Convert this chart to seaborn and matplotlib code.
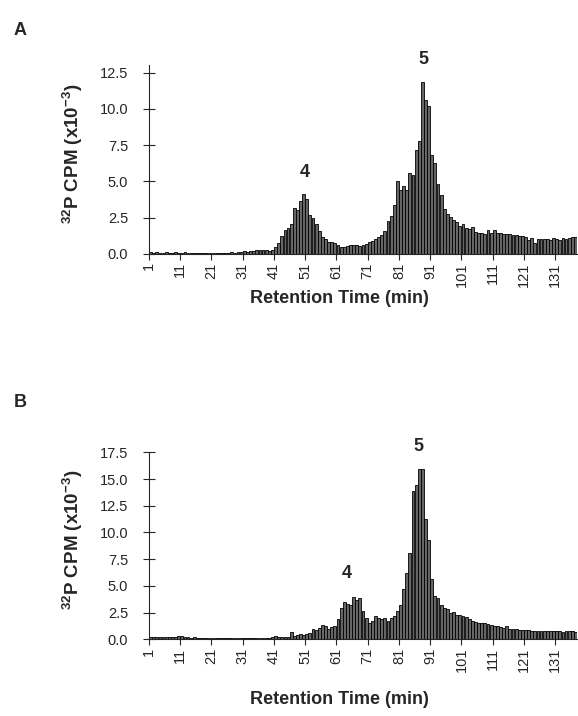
import numpy as np
import pandas as pd
import matplotlib
matplotlib.use('Agg')
import matplotlib.pyplot as plt
import seaborn as sns
from matplotlib.ticker import FormatStrFormatter

# Фракции (мин) и счёт 32P, x10^-3
fractions = list(range(1, 138))
cpm_a = [0.12, 0.10, 0.12, 0.10, 0.10, 0.12, 0.10, 0.10, 0.12, 0.10,
         0.10, 0.12, 0.10, 0.08, 0.10, 0.10, 0.08, 0.10, 0.10, 0.08,
         0.10, 0.10, 0.10, 0.08, 0.10, 0.10, 0.12, 0.10, 0.12, 0.15,
         0.18, 0.15, 0.20, 0.18, 0.25, 0.30, 0.25, 0.28, 0.22, 0.30,
         0.45, 0.78, 1.24, 1.65, 1.80, 2.10, 3.15, 3.00, 3.65, 4.10,
         3.80, 2.70, 2.50, 2.10, 1.55, 1.20, 1.00, 0.85, 0.80, 0.75,
         0.65, 0.50, 0.46, 0.55, 0.60, 0.62, 0.60, 0.55, 0.60, 0.70,
         0.80, 0.90, 1.00, 1.15, 1.30, 1.55, 2.30, 2.65, 3.35, 5.00,
         4.40, 4.70, 4.40, 5.60, 5.45, 7.20, 7.80, 11.85, 10.60, 10.20,
         6.85, 6.25, 4.80, 4.05, 3.10, 2.75, 2.55, 2.35, 2.20, 1.95,
         2.05, 1.80, 1.75, 1.85, 1.50, 1.45, 1.45, 1.40, 1.65, 1.45,
         1.65, 1.45, 1.45, 1.40, 1.35, 1.35, 1.30, 1.30, 1.25, 1.25,
         1.20, 0.95, 1.10, 0.75, 1.00, 1.00, 1.00, 1.00, 0.95, 1.10,
         1.00, 0.95, 1.10, 1.05, 1.10, 1.15, 1.20]
cpm_b = [0.25, 0.22, 0.25, 0.20, 0.22, 0.25, 0.22, 0.20, 0.25, 0.30,
         0.28, 0.22, 0.18, 0.15, 0.18, 0.15, 0.15, 0.12, 0.15, 0.12,
         0.12, 0.10, 0.12, 0.15, 0.10, 0.10, 0.08, 0.10, 0.10, 0.10,
         0.08, 0.10, 0.10, 0.08, 0.10, 0.10, 0.10, 0.12, 0.15, 0.20,
         0.35, 0.20, 0.20, 0.25, 0.25, 0.70, 0.35, 0.45, 0.50, 0.40,
         0.50, 0.60, 0.95, 0.90, 1.05, 1.35, 1.25, 0.95, 1.15, 1.20,
         1.90, 2.90, 3.50, 3.30, 3.25, 3.95, 3.70, 3.85, 2.65, 2.00,
         1.55, 1.75, 2.20, 1.95, 1.90, 2.00, 1.75, 1.95, 2.20, 2.65,
         3.20, 4.70, 6.20, 8.10, 13.90, 14.40, 15.90, 15.90, 11.30, 9.30,
         5.60, 4.10, 3.90, 3.20, 2.90, 2.80, 2.50, 2.60, 2.30, 2.25,
         2.15, 2.05, 1.90, 1.75, 1.65, 1.55, 1.50, 1.50, 1.45, 1.35,
         1.25, 1.20, 1.15, 1.05, 1.20, 1.00, 0.95, 0.95, 0.90, 0.85,
         0.90, 0.85, 0.80, 0.80, 0.82, 0.80, 0.78, 0.75, 0.75, 0.76,
         0.74, 0.75, 0.72, 0.75, 0.74, 0.75, 0.73]
tick_values = list(range(1, 132, 10))
tick_labels = [str(v) for v in tick_values]

sns.set_style('ticks')
plt.rcParams['font.family'] = ['Liberation Sans', 'DejaVu Sans']
plt.rcParams['mathtext.fontset'] = 'custom'
plt.rcParams['mathtext.rm'] = 'Liberation Sans'
plt.rcParams['mathtext.bf'] = 'Liberation Sans:bold'
plt.rcParams['mathtext.default'] = 'bf'

fig = plt.figure(figsize=(5.78, 7.16), dpi=100)
ax_a = fig.add_axes([0.2578, 0.6453, 0.7405, 0.264])
ax_b = fig.add_axes([0.2578, 0.1071, 0.7405, 0.2612])

panels = [
    (ax_a, cpm_a, 13.03, 'A', 0.958, [(49.2, 5.65, '4'), (87.4, 13.4, '5')], -0.19),
    (ax_b, cpm_b, 17.5, 'B', 0.4385, [(62.9, 6.2, '4'), (85.8, 18.0, '5')], -0.275),
]

for ax, vals, ymax, letter, ly, peaks, xlab_y in panels:
    df = pd.DataFrame({'fraction': fractions, 'cpm': vals})
    sns.barplot(data=df, x='fraction', y='cpm', color='#666666', saturation=1,
                edgecolor='black', linewidth=0.6, width=0.9, ax=ax)
    ax.set_xlim(-0.5, len(fractions) - 0.5)
    ax.set_ylim(0, ymax)
    ax.set_yticks(np.arange(0, ymax + 0.01, 2.5))
    ax.yaxis.set_major_formatter(FormatStrFormatter('%.1f'))
    ax.set_xticks([v - 1.5 for v in tick_values])
    ax.set_xticklabels(tick_labels, rotation=90, ha='center', va='top')
    ax.tick_params(axis='x', direction='out', length=4, width=0.8, labelsize=10.5, pad=2)
    ax.tick_params(axis='y', direction='inout', length=8, width=0.8, labelsize=10.5, pad=11)
    sns.despine(ax=ax)
    for sp in ax.spines.values():
        sp.set_linewidth(0.8)
    ax.set_xlabel('Retention Time (min)', fontsize=13, fontweight='bold')
    ax.xaxis.set_label_coords(0.445, xlab_y)
    ax.set_ylabel(r'$^{32}$P CPM (x10$^{-3}$)', fontsize=13.5, fontweight='bold')
    ax.yaxis.set_label_coords(-0.15, 0.53)
    for px, py, txt in peaks:
        ax.text(px, py, txt, fontsize=13, fontweight='bold', ha='center', va='center', clip_on=False)
    fig.text(0.035, ly, letter, fontsize=13, fontweight='bold', ha='center', va='center')

plt.savefig('out.png', dpi=100)
plt.close()
